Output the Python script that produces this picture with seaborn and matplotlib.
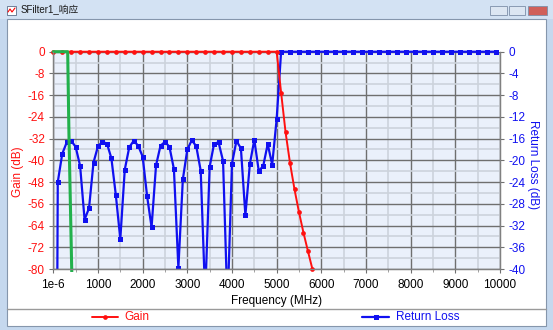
import matplotlib
matplotlib.use("Agg")
import matplotlib.pyplot as plt
import seaborn as sns
import pandas as pd
from matplotlib.patches import Rectangle
from matplotlib.lines import Line2D
from matplotlib.ticker import MultipleLocator, FixedLocator
from matplotlib.transforms import Bbox, TransformedBbox

# ---------------- data ----------------
gain_freq = [0, 200, 400, 600, 800, 1000, 1200, 1400, 1600, 1800, 2000, 2200, 2400,
             2600, 2800, 3000, 3200, 3400, 3600, 3800, 4000, 4200, 4400, 4600, 4800,
             5000, 5100, 5200, 5300, 5400, 5500, 5600, 5700, 5800]
gain_db = [0, 0, 0, 0, 0, 0, 0, 0, 0, 0, 0, 0, 0,
           0, 0, 0, 0, 0, 0, 0, 0, 0, 0, 0, 0,
           0, -15.1, -29.7, -41.1, -50.7, -59.1, -66.6, -73.4, -80.0]

rl_freq = [0, 100, 200, 300, 400, 500, 600, 700, 800, 900,
           1000, 1100, 1200, 1300, 1400, 1500, 1600, 1700, 1800, 1900,
           2000, 2100, 2200, 2300, 2400, 2500, 2600, 2700, 2800, 2900,
           3000, 3100, 3200, 3300, 3400, 3500, 3600, 3700, 3800, 3900,
           4000, 4100, 4200, 4300, 4400, 4500, 4600, 4700, 4800, 4900,
           5000, 5100, 5300, 5500, 5700, 5900, 6100, 6300, 6500, 6700,
           6900, 7100, 7300, 7500, 7700, 7900, 8100, 8300, 8500, 8700,
           8900, 9100, 9300, 9500, 9700, 9900]
rl_db = [-200.0, -24.0, -18.8, -16.7, -16.4, -17.5, -21.0, -30.9, -28.8, -20.4,
         -17.4, -16.6, -16.9, -19.6, -26.4, -34.5, -21.7, -17.6, -16.4, -17.3,
         -19.3, -26.6, -32.3, -20.9, -17.3, -16.6, -17.5, -21.6, -39.8, -23.5,
         -18.0, -16.3, -17.4, -21.9, -45.0, -21.2, -16.9, -16.7, -20.1, -47.0,
         -20.6, -16.4, -17.8, -30.1, -20.7, -16.2, -22.0, -21.0, -17.0, -20.8,
         -12.4, 0, 0, 0, 0, 0, 0, 0, 0, 0,
         0, 0, 0, 0, 0, 0, 0, 0, 0, 0,
         0, 0, 0, 0, 0, 0]

mask_freq = [0, 322, 350, 375, 412, 425]
mask_db = [0, 0, -30, -50, -80, -90]

x_ticks = [0, 1000, 2000, 3000, 4000, 5000, 6000, 7000, 8000, 9000, 10000]
x_labels = ["1e-6", "1000", "2000", "3000", "4000", "5000", "6000", "7000", "8000", "9000", "10000"]
gain_ticks = [0, -8, -16, -24, -32, -40, -48, -56, -64, -72, -80]
rl_ticks = [0, -4, -8, -12, -16, -20, -24, -28, -32, -36, -40]

title_text = "SFilter1_响应"
xlabel = "Frequency (MHz)"
ylabel_left = "Gain (dB)"
ylabel_right = "Return Loss (dB)"
legend_names = ["Gain", "Return Loss"]

# ---------------- style ----------------
sns.set_theme(style="white")
plt.rcParams['font.family'] = ['Liberation Sans', 'Noto Sans CJK SC', 'DejaVu Sans']
plt.rcParams['axes.unicode_minus'] = False

W, H = 553, 330
RED = "#FF1010"
BLUE = "#1010F0"
GREEN = "#22B14C"
BG = "#EAF0FB"

def fx(x):
    return x / W

def fy(y):
    return 1 - y / H

fig = plt.figure(figsize=(W / 100, H / 100), dpi=100)
fig.patch.set_facecolor("#C5D8EE")

# window chrome
fig.add_artist(Rectangle((0, fy(19)), 1, 19 / H, transform=fig.transFigure,
                         facecolor="#D3E2F3", edgecolor="none", zorder=0))
fig.add_artist(Rectangle((fx(7), fy(326)), fx(539), 307 / H, transform=fig.transFigure,
                         facecolor="white", edgecolor="#8596AC", linewidth=0.8, zorder=0))
fig.add_artist(Line2D([fx(7), fx(546)], [fy(308.5), fy(308.5)], transform=fig.transFigure,
                      color="#9A9A9A", linewidth=1.0))
fig.text(fx(21), fy(10), title_text, fontsize=7, color="#1A1A1A", va="center", ha="left")
# icon
fig.add_artist(Rectangle((fx(7), fy(15)), fx(9), 9 / H, transform=fig.transFigure,
                         facecolor="white", edgecolor="#5A6E8A", linewidth=0.6))
fig.add_artist(Line2D([fx(8), fx(10), fx(12), fx(15)], [fy(12), fy(9), fy(12), fy(8)],
                      transform=fig.transFigure, color="red", linewidth=0.8))
# buttons
for x0, x1, col in [(490, 507, "#DCE6F2"), (509, 525, "#DCE6F2"), (528, 547, "#D0605A")]:
    fig.add_artist(Rectangle((fx(x0), fy(15)), fx(x1 - x0), 9 / H, transform=fig.transFigure,
                             facecolor=col, edgecolor="#7D8FA8", linewidth=0.6))

# ---------------- axes ----------------
L, R, T, B = 53.3, 500.0, 51.7, 269.0
ax = fig.add_axes([fx(L), fy(B), fx(R - L), (B - T) / H])
ax2 = ax.twinx()
ax.set_zorder(ax2.get_zorder() + 1)
ax.patch.set_visible(False)
ax2.patch.set_visible(True)
ax2.patch.set_facecolor(BG)

df_gain = pd.DataFrame({"freq": gain_freq, "gain": gain_db})
df_rl = pd.DataFrame({"freq": rl_freq, "rl": rl_db})
df_mask = pd.DataFrame({"freq": mask_freq, "gain": mask_db})

sns.lineplot(data=df_rl, x="freq", y="rl", ax=ax2, color=BLUE, linewidth=1.6,
             marker="s", markersize=3.6, markeredgewidth=0, sort=False, estimator=None)
sns.lineplot(data=df_gain, x="freq", y="gain", ax=ax, color=RED, linewidth=1.4,
             marker="o", markersize=3.4, markeredgewidth=0, sort=False, estimator=None)
sns.lineplot(data=df_mask, x="freq", y="gain", ax=ax, color=GREEN, linewidth=2.2,
             sort=False, estimator=None)

ax.set_xlim(0, 10000)
ax.set_ylim(-80, 0)
ax2.set_ylim(-40, 0)

for line in ax.lines:
    line.set_clip_box(TransformedBbox(Bbox.from_extents(-0.01, -0.012, 1.01, 1.02), ax.transAxes))
for line in ax2.lines:
    line.set_clip_box(TransformedBbox(Bbox.from_extents(-0.01, 0.0, 1.01, 1.02), ax2.transAxes))

# grid on the background axes
ax2.xaxis.set_visible(True)
ax2.set_xlabel("")
ax2.xaxis.set_major_locator(FixedLocator(x_ticks))
ax2.xaxis.set_minor_locator(MultipleLocator(500))
ax2.yaxis.set_major_locator(FixedLocator(rl_ticks))
ax2.yaxis.set_minor_locator(MultipleLocator(2))
ax2.grid(which="major", color="#6F6F6F", linewidth=1.0)
ax2.grid(which="minor", color="#CDD3DC", linewidth=1.2)
ax2.set_axisbelow(True)
ax2.tick_params(axis="x", which="both", bottom=False, top=False, labelbottom=False, labeltop=False)
ax.grid(False)

ax.set_xticks(x_ticks)
ax.set_xticklabels(x_labels)
ax.set_yticks(gain_ticks)
ax.xaxis.set_minor_locator(MultipleLocator(500))
ax.yaxis.set_minor_locator(MultipleLocator(4))
ax.tick_params(axis="x", which="major", length=3, width=0.8, color="#707070", pad=4,
               labelsize=8.5, labelcolor="black", bottom=True, direction="out")
ax.tick_params(axis="x", which="minor", length=2, width=0.6, color="#909090", bottom=True)
ax.tick_params(axis="y", which="major", length=3, width=0.8, color="#707070", pad=3,
               labelsize=8.5, labelcolor=RED, left=True, direction="out")
ax.tick_params(axis="y", which="minor", length=0, left=False)
ax2.set_yticks(rl_ticks)
ax2.tick_params(axis="y", which="major", length=3, width=0.8, color="#707070", pad=3,
                labelsize=8.5, labelcolor=BLUE, right=True, direction="out")
ax2.tick_params(axis="y", which="minor", length=0, right=False)

ax.set_xlabel(xlabel, fontsize=8.5, color="black", va="center")
ax.xaxis.set_label_coords(0.5, -0.147)
ax.set_ylabel(ylabel_left, fontsize=8.5, color=RED, va="center", ha="center")
ax.yaxis.set_label_coords(-0.079, 0.446)
ax2.set_ylabel(ylabel_right, fontsize=8.5, color=BLUE, rotation=270, va="center", ha="center")
ax2.yaxis.set_label_coords(1.074, 0.479)

for a in (ax, ax2):
    for s in a.spines.values():
        s.set_color("#808080")
        s.set_linewidth(0.9)
ax.spines["top"].set_visible(False)
ax2.spines["top"].set_visible(False)

# ---------------- legend (manual, at bottom of window) ----------------
leg_y = fy(317)
fig.add_artist(Line2D([fx(92), fx(105), fx(118)], [leg_y] * 3, transform=fig.transFigure,
                      color=RED, linewidth=1.4, marker="o", markersize=3.4,
                      markeredgewidth=0, markevery=[1]))
fig.text(fx(124), leg_y, legend_names[0], fontsize=8.5, color=RED, va="center", ha="left")
fig.add_artist(Line2D([fx(362), fx(375.5), fx(389)], [leg_y] * 3, transform=fig.transFigure,
                      color=BLUE, linewidth=1.6, marker="s", markersize=3.6,
                      markeredgewidth=0, markevery=[1]))
fig.text(fx(396), leg_y, legend_names[1], fontsize=8.5, color=BLUE, va="center", ha="left")

fig.savefig("out.png", dpi=100, facecolor=fig.get_facecolor())
